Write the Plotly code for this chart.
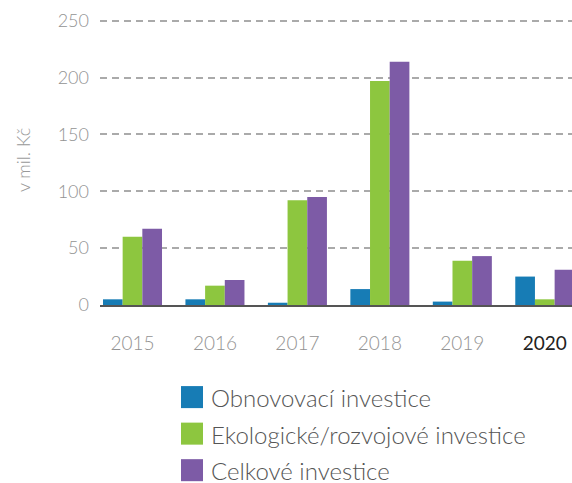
import plotly.graph_objects as go

years = ["2015", "2016", "2017", "2018", "2019", "2020"]
tick_labels = ["2015", "2016", "2017", "2018", "2019",
               "<span style='color:#222222;font-weight:400'>2020</span>"]
obnovovaci = [5, 5, 2, 14, 3, 25]
ekologicke = [60, 17, 92, 197, 39, 5]
celkove = [67, 22, 95, 214, 43, 31]
series_names = ["Obnovovací investice", "Ekologické/rozvojové investice", "Celkové investice"]
colors = ["#177CB5", "#8DC63F", "#7D5BA6"]
y_ticks = [0, 50, 100, 150, 200, 250]

fig = go.Figure()
for name, vals, col in zip(series_names, [obnovovaci, ekologicke, celkove], colors):
    fig.add_trace(go.Bar(x=list(range(len(years))), y=vals, name=name,
                         marker=dict(color=col, line=dict(width=0)), showlegend=False))

# manual legend (big square swatches)
L, R, T, B = 100, 572, 15.3, 305
def px_x(p):
    return (p - L) / (R - L)
def px_y(p):
    return (B - p) / (B - T)

centers = [397, 433.5, 470]
for name, col, cy in zip(series_names, colors, centers):
    fig.add_shape(type="rect", xref="paper", yref="paper",
                  x0=px_x(181), x1=px_x(203), y0=px_y(cy + 11), y1=px_y(cy - 11),
                  fillcolor=col, line=dict(width=0))
    fig.add_annotation(xref="paper", yref="paper", x=px_x(209), y=px_y(cy + 0.5),
                       text=name, showarrow=False, xanchor="left", yanchor="middle",
                       font=dict(family="Lato", size=24, color="#555555", weight=300))

fig.update_layout(
    width=572, height=483,
    margin=dict(l=L, r=572 - R, t=T, b=483 - B, autoexpand=False),
    paper_bgcolor="white", plot_bgcolor="white",
    barmode="group", bargap=0.284, bargroupgap=0,
    font=dict(family="Lato", color="#999999", size=16, weight=300),
    showlegend=False,
)
fig.update_xaxes(
    range=[-0.394, 5.33], tickvals=list(range(len(years))), ticktext=tick_labels,
    showgrid=False, zeroline=False, showline=True, linecolor="#555555", linewidth=1.5,
    layer="below traces", ticks="", ticklabelstandoff=20, automargin=False,
    tickfont=dict(family="Lato", size=19, color="#939393", weight=300),
)
fig.update_yaxes(
    range=[0, 255], tickvals=y_ticks, showgrid=True, gridcolor="#AAAAAA", gridwidth=1.5,
    griddash="7px,5px", zeroline=False, showline=False, ticks="", ticklabelstandoff=10,
    automargin=False,
    tickfont=dict(family="Lato", size=18, color="#939393", weight=300),
    title=dict(text="v mil. Kč", standoff=22, font=dict(family="Lato", size=18, color="#999999", weight=300)),
)

fig.write_html("out.html", config={"displayModeBar": False},
               post_script="document.body.style.margin='0';document.body.style.overflow='hidden';")
